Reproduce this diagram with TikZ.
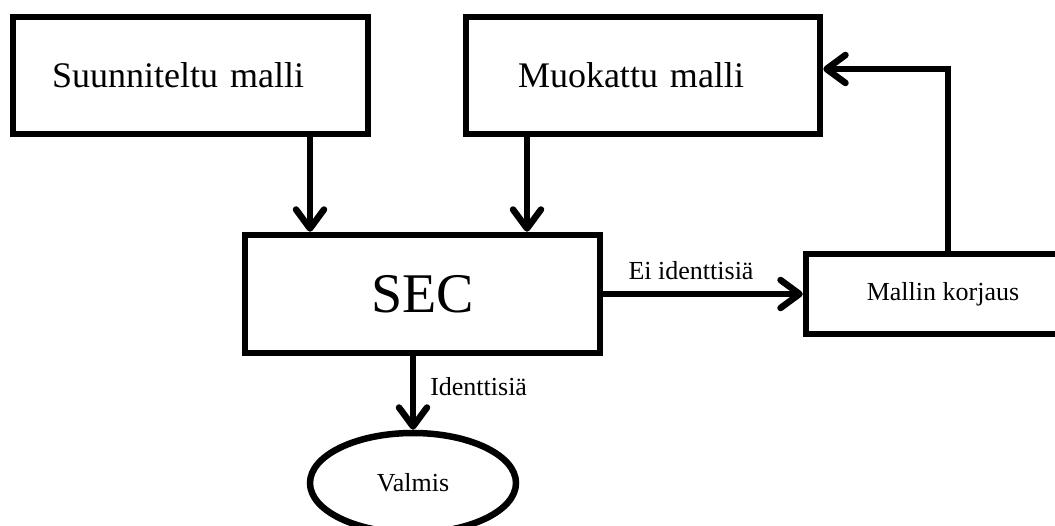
\documentclass[tikz,border=0pt]{standalone}
\usepackage{fontspec}
\setmainfont{Liberation Serif}
\usetikzlibrary{arrows.meta,positioning,shapes.geometric}

\begin{document}
\begin{tikzpicture}[
        x=1pt, y=-1pt,
        line width=6.5pt,
        box/.style={
            draw, inner sep=0pt,
            minimum width=355pt, minimum height=117pt
        },
        big/.style={font=\fontsize{36}{40}\selectfont},
        small/.style={font=\fontsize{26}{30}\selectfont},
        oval/.style={
            draw, ellipse, inner sep=0pt,
            minimum width=206pt, minimum height=100pt
        },
        arrow/.style={-{Straight Barb[length=19pt,width=28pt,round]}}
        ]

        % --- Frame (picture is cut at right and bottom) ---
        \clip (0,0) rectangle (1055,525);

        % --- Top: the two models ---
        \node[box, big, text width=277pt, align=left] (planned) at (190.5,75.5)
        {Suunniteltu malli};

        \node[box, big, text width=250pt, align=left, minimum width=354pt] (edited) at (643,75.5)
        {Muokattu malli};

        % --- Middle: check and fix ---
        \node[box, font=\fontsize{56}{60}\selectfont, minimum height=118pt] (sec) at (422.5,294)
        {SEC};

        \node[box, small, minimum width=274pt, minimum height=80pt] (fix) at (943,294)
        {Mallin korjaus};

        % --- Bottom: result ---
        \node[oval, small] (done) at (413,483)
        {Valmis};

        % --- Arrow positions ---
        \coordinate (in1) at (310,0);
        \coordinate (in2) at (527,0);
        \coordinate (back) at (948,69);

        % --- Arrows ---
        \draw[arrow] (planned.south -| in1) -- (sec.north -| in1);
        \draw[arrow] (edited.south -| in2) -- (sec.north -| in2);
        \draw[arrow] (sec.east) -- node[pos=0.44, above=11pt, inner sep=0pt, small] {Ei identtisiä} (fix.west);
        \draw[arrow] (fix.north -| back) |- (edited.east |- back);
        \draw[arrow] (sec.south -| done.north) -- node[pos=0.41, right=14pt, inner sep=0pt, small] {Identtisiä} (done.north);

\end{tikzpicture}
\end{document}
